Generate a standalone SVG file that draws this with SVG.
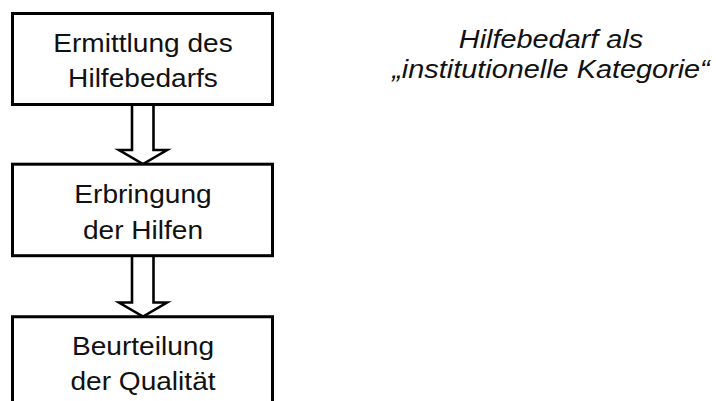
<svg xmlns="http://www.w3.org/2000/svg" width="716" height="401" viewBox="0 0 716 401">
  <style>
    .box { fill: #ffffff; stroke: #000000; stroke-width: 3; }
    .arrow { fill: #ffffff; stroke: #000000; stroke-width: 2.6; stroke-linejoin: miter; }
    .label { font-family: "Liberation Sans", Arial, sans-serif; font-size: 26px; fill: #111111; text-anchor: middle; }
    .note { font-family: "Liberation Sans", Arial, sans-serif; font-size: 26px; font-style: italic; fill: #111111; text-anchor: middle; }
  </style>
  <rect width="716" height="401" fill="#ffffff"/>

  <!-- block arrows between the steps -->
  <g id="connectors">
    <path class="arrow" d="M132,105 L132,150 L119,150 L143,164 L167,150 L153.5,150 L153.5,105"/>
    <path class="arrow" d="M132,257 L132,302.5 L119,302.5 L143,316.5 L167,302.5 L153.5,302.5 L153.5,257"/>
  </g>

  <g id="step-ermittlung">
    <rect class="box" x="12.5" y="13.5" width="260" height="91"/>
    <g transform="translate(143,0) scale(1.08,1)">
      <text class="label" x="0" y="52.5">Ermittlung des</text>
      <text class="label" x="0" y="87">Hilfebedarfs</text>
    </g>
  </g>

  <g id="step-erbringung">
    <rect class="box" x="12.5" y="164.2" width="260" height="91.5"/>
    <g transform="translate(143,0) scale(1.08,1)">
      <text class="label" x="0" y="203">Erbringung</text>
      <text class="label" x="0" y="239">der Hilfen</text>
    </g>
  </g>

  <g id="step-beurteilung">
    <path class="box" d="M12.5,410 L12.5,316.7 L272.5,316.7 L272.5,410"/>
    <g transform="translate(143,0) scale(1.08,1)">
      <text class="label" x="0" y="355">Beurteilung</text>
      <text class="label" x="0" y="390">der Qualität</text>
    </g>
  </g>

  <g id="note-kategorie">
    <g transform="translate(551,0) scale(1.11,1)">
      <text class="note" x="0" y="48">Hilfebedarf als</text>
      <text class="note" x="0" y="78.5">„institutionelle Kategorie“</text>
    </g>
  </g>
</svg>
